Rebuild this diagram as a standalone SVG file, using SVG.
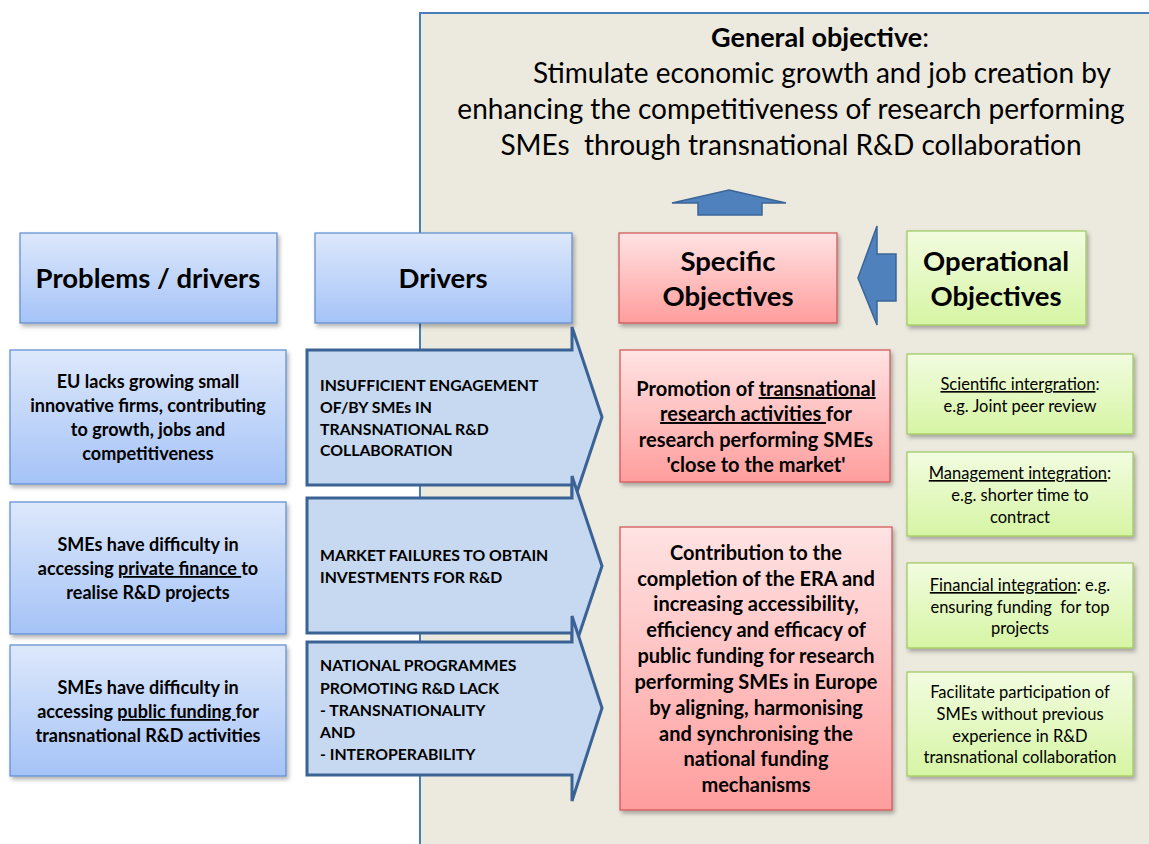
<svg xmlns="http://www.w3.org/2000/svg" width="1149" height="844" viewBox="0 0 1149 844">
<defs>
<linearGradient id="gBlue" x1="0" y1="0" x2="0" y2="1"><stop offset="0" stop-color="#dde8fb"/><stop offset="1" stop-color="#a5c3f7"/></linearGradient>
<linearGradient id="gRed" x1="0" y1="0" x2="0" y2="1"><stop offset="0" stop-color="#ffe3e3"/><stop offset="1" stop-color="#ff9d9d"/></linearGradient>
<linearGradient id="gGreen" x1="0" y1="0" x2="0" y2="1"><stop offset="0" stop-color="#f2fce0"/><stop offset="1" stop-color="#d6f5a4"/></linearGradient>
<filter id="sh" x="-10%" y="-10%" width="130%" height="130%"><feDropShadow dx="2" dy="3" stdDeviation="2" flood-color="#000" flood-opacity="0.3"/></filter>
<style>
text{font-family:Lato,"Liberation Sans",sans-serif;fill:#000}
.b{font-weight:bold}
.pre{white-space:pre}
.hd{font-size:27.5px;font-weight:bold;text-anchor:middle}
.pb{font-size:18px;font-weight:bold;text-anchor:middle}
.dr{font-size:15.8px;font-weight:bold}
.so{font-size:20px;font-weight:bold;text-anchor:middle}
.op{font-size:16.5px;text-anchor:middle}
.go{font-size:28px;text-anchor:middle}
.blue{fill:url(#gBlue);stroke:#5b8ad0;stroke-width:1.2;filter:url(#sh)}
.red{fill:url(#gRed);stroke:#d05050;stroke-width:1.2;filter:url(#sh)}
.green{fill:url(#gGreen);stroke:#9bc85a;stroke-width:1.2;filter:url(#sh)}
.darr{fill:#c6d9f0;stroke:#3a6294;stroke-width:3}
.barr{fill:#4f81bd;stroke:#3b6597;stroke-width:1.5}
</style>
</defs>
<rect width="1149" height="844" fill="#ffffff"/>
<g id="panel">
<rect x="420" y="13" width="740" height="845" fill="#ece9df" stroke="#4a7ebb" stroke-width="2"/>
<text x="820" y="47" class="go" style="font-size:27px"><tspan font-weight="bold">General objective</tspan>:</text>
<text x="822" y="83" class="go">Stimulate economic growth and job creation by</text>
<text x="791" y="119" class="go">enhancing the competitiveness of research performing</text>
<text x="791" y="155" class="go pre" xml:space="preserve">SMEs  through transnational R&amp;D collaboration</text>
</g>
<g id="connectors">
<polygon class="barr" points="729,190 786,203 762,203 762,215 698,215 698,203 672,203"/>
<polygon class="barr" points="858,278 877,226 877,254 896,254 896,301 877,301 877,325"/>
</g>
<g id="hdr-problems"><rect class="blue" x="20" y="233" width="257" height="90"/><text class="hd" x="148" y="288">Problems / drivers</text></g>
<g id="hdr-drivers"><rect class="blue" x="315" y="233" width="257" height="90"/><text class="hd" x="443" y="288">Drivers</text></g>
<g id="hdr-specific"><rect class="red" x="619" y="233" width="218" height="90"/><text class="hd" x="728" y="271">Specific</text><text class="hd" x="728" y="306">Objectives</text></g>
<g id="hdr-operational"><rect class="green" x="907" y="231" width="179" height="94"/><text class="hd" x="996" y="271">Operational</text><text class="hd" x="996" y="306">Objectives</text></g>
<g id="prob1"><rect class="blue" x="10" y="350" width="276" height="134"/>
<text class="pb" x="148" y="388">EU lacks growing small</text><text class="pb" x="148" y="412">innovative firms, contributing</text><text class="pb" x="148" y="436">to growth, jobs and</text><text class="pb" x="148" y="460">competitiveness</text></g>
<g id="prob2"><rect class="blue" x="10" y="502" width="276" height="132"/>
<text class="pb" x="148" y="551">SMEs have difficulty in</text><text class="pb" x="148" y="575">accessing <tspan text-decoration="underline">private finance </tspan>to</text><text class="pb" x="148" y="599">realise R&amp;D projects</text></g>
<g id="prob3"><rect class="blue" x="10" y="645" width="276" height="131"/>
<text class="pb" x="148" y="694">SMEs have difficulty in</text><text class="pb" x="148" y="718">accessing <tspan text-decoration="underline">public funding </tspan>for</text><text class="pb" x="148" y="742">transnational R&amp;D activities</text></g>
<g id="drv1"><polygon class="darr" points="307,350 572,350 572,327 602,417 572,507 572,485 307,485"/>
<text class="dr" x="320" y="391">INSUFFICIENT ENGAGEMENT</text><text class="dr" x="320" y="413">OF/BY SMEs IN</text><text class="dr" x="320" y="435">TRANSNATIONAL R&amp;D</text><text class="dr" x="320" y="456">COLLABORATION</text></g>
<g id="drv2"><polygon class="darr" points="307,498 572,498 572,476 602,566 572,656 572,633 307,633"/>
<text class="dr" x="320" y="561">MARKET FAILURES TO OBTAIN</text><text class="dr" x="320" y="583">INVESTMENTS FOR R&amp;D</text></g>
<g id="drv3"><polygon class="darr" points="307,642 572,642 572,616 602,708 572,801 572,775 307,775"/>
<text class="dr" x="320" y="671">NATIONAL PROGRAMMES</text><text class="dr" x="320" y="694">PROMOTING R&amp;D LACK</text><text class="dr" x="320" y="716">- TRANSNATIONALITY</text><text class="dr" x="320" y="738">AND</text><text class="dr" x="320" y="760">- INTEROPERABILITY</text></g>
<g id="spec1"><rect class="red" x="620" y="350" width="270" height="132"/>
<text class="so" x="756" y="396">Promotion of <tspan text-decoration="underline">transnational</tspan></text><text class="so" x="756" y="421"><tspan text-decoration="underline">research activities </tspan>for</text><text class="so" x="756" y="447">research performing SMEs</text><text class="so" x="756" y="472">'close to the market'</text></g>
<g id="spec2"><rect class="red" x="620" y="527" width="272" height="283"/>
<text class="so" x="756" y="560">Contribution to the</text><text class="so" x="756" y="586">completion of the ERA and</text><text class="so" x="756" y="611">increasing accessibility,</text><text class="so" x="756" y="637">efficiency and efficacy of</text><text class="so" x="756" y="663">public funding for research</text><text class="so" x="756" y="689">performing SMEs in Europe</text><text class="so" x="756" y="715">by aligning, harmonising</text><text class="so" x="756" y="741">and synchronising the</text><text class="so" x="756" y="766">national funding</text><text class="so" x="756" y="792">mechanisms</text></g>
<g id="op1"><rect class="green" x="907" y="354" width="226" height="80"/>
<text class="op" x="1020" y="390"><tspan text-decoration="underline">Scientific intergration</tspan>:</text><text class="op" x="1020" y="412">e.g. Joint peer review</text></g>
<g id="op2"><rect class="green" x="907" y="452" width="226" height="84"/>
<text class="op" x="1020" y="479"><tspan text-decoration="underline">Management integration</tspan>:</text><text class="op" x="1020" y="501">e.g. shorter time to</text><text class="op" x="1020" y="523">contract</text></g>
<g id="op3"><rect class="green" x="907" y="563" width="226" height="85"/>
<text class="op" x="1020" y="591"><tspan text-decoration="underline">Financial integration</tspan>: e.g.</text><text class="op pre" x="1020" y="613" xml:space="preserve">ensuring funding  for top</text><text class="op" x="1020" y="634">projects</text></g>
<g id="op4"><rect class="green" x="907" y="672" width="226" height="104"/>
<text class="op" x="1020" y="698">Facilitate participation of</text><text class="op" x="1020" y="720">SMEs without previous</text><text class="op" x="1020" y="742">experience in R&amp;D</text><text class="op" x="1020" y="763">transnational collaboration</text></g>
</svg>
